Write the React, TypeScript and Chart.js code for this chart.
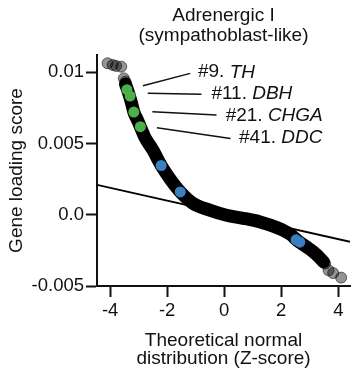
import React, { useEffect, useRef } from 'react';
import { Chart, registerables } from 'chart.js';

Chart.register(...registerables);

const FONT = '"Liberation Sans", Arial, Helvetica, sans-serif';
const INK = '#111111';

const titleLines = ['Adrenergic I', '(sympathoblast-like)'];
const xTitleLines = ['Theoretical normal', 'distribution (Z-score)'];
const yTitleText = 'Gene loading score';

const xTickValues = [-4, -2, 0, 2, 4];
const xTickLabels = ['-4', '-2', '0', '2', '4'];
const yTickValues = [-0.005, 0, 0.005, 0.01];
const yTickLabels = ['-0.005', '0.0', '0.005', '0.01'];

// bulk of genes (dense black band), theoretical Z vs loading score
const bandZ = [-3.46, -3.35, -3.25, -3.17, -3.04, -2.94, -2.79, -2.5, -2.21, -1.91, -1.54, -1.09, -0.51, 0.08, 0.67, 1.26, 1.84, 2.31, 2.58, 2.88, 3.13, 3.33, 3.48];
const bandScore = [0.00916, 0.00851, 0.00783, 0.0072, 0.00664, 0.00617, 0.00546, 0.00453, 0.00345, 0.00254, 0.0016, 0.00079, 0.00032, -0.00004, -0.00025, -0.00051, -0.0009, -0.00137, -0.00183, -0.00225, -0.00261, -0.00298, -0.00331];

// extreme genes (translucent grey)
const greyZ = [-4.09, -3.91, -3.79, -3.61, -3.52, -3.46, 3.54, 3.66, 3.82, 4.1];
const greyScore = [0.01062, 0.0105, 0.01043, 0.01038, 0.00956, 0.00933, -0.00343, -0.0039, -0.00409, -0.00441];

// highlighted adrenergic marker genes (green)
const greenZ = [-3.41, -3.3, -3.17, -2.94];
const greenScore = [0.00877, 0.00832, 0.0072, 0.00617];

// other highlighted genes (blue)
const blueZ = [-2.21, -1.54, 2.52, 2.65];
const blueScore = [0.00345, 0.0016, -0.00176, -0.00193];

// reference (fitted) line
const refZ = [-4.46, 4.41];
const refScore = [0.0021, -0.0019];

// gene labels
const geneRanks = ['#9.', '#11.', '#21.', '#41.'];
const geneNames = ['TH', 'DBH', 'CHGA', 'DDC'];

// annotation layout, in data coordinates [z, score]
const leaderFrom = [[-2.85, 0.00904], [-2.68, 0.00851], [-2.52, 0.00722], [-2.36, 0.0061]];
const leaderTo = [[-1.19, 0.00991], [-0.8, 0.00844], [-0.27, 0.00699], [0.22, 0.00535]];
const labelAt = [[-0.92, 0.00999], [-0.45, 0.00851], [0.05, 0.00694], [0.52, 0.00542]];

const pts = (xs: number[], ys: number[]) => xs.map((x, i) => ({ x, y: ys[i] }));

const geneLabelPlugin = {
  id: 'geneLabels',
  afterDatasetsDraw(chart: any) {
    const { ctx, scales } = chart;
    const xs = scales.x;
    const ys = scales.y;
    ctx.save();
    ctx.strokeStyle = INK;
    ctx.lineWidth = 1.5;
    ctx.fillStyle = INK;
    ctx.textAlign = 'left';
    ctx.textBaseline = 'middle';
    for (let i = 0; i < geneNames.length; i++) {
      ctx.beginPath();
      ctx.moveTo(xs.getPixelForValue(leaderFrom[i][0]), ys.getPixelForValue(leaderFrom[i][1]));
      ctx.lineTo(xs.getPixelForValue(leaderTo[i][0]), ys.getPixelForValue(leaderTo[i][1]));
      ctx.stroke();
      const px = xs.getPixelForValue(labelAt[i][0]);
      const py = ys.getPixelForValue(labelAt[i][1]);
      const prefix = geneRanks[i] + ' ';
      ctx.font = `19px ${FONT}`;
      ctx.fillText(prefix, px, py);
      const w = ctx.measureText(prefix).width;
      ctx.font = `italic 19px ${FONT}`;
      ctx.fillText(geneNames[i], px + w, py);
    }
    ctx.restore();
  },
};

const labelFor = (values: number[], labels: string[]) => (v: number | string) => {
  const n = Number(v);
  const idx = values.findIndex((t) => Math.abs(t - n) < 1e-9);
  return idx >= 0 ? labels[idx] : '';
};

export default function App() {
  const ref = useRef<HTMLCanvasElement>(null);

  useEffect(() => {
    if (!ref.current) return;
    Chart.defaults.font.family = FONT;
    Chart.defaults.color = INK;
    const chart = new Chart(ref.current, {
      type: 'scatter',
      data: {
        datasets: [
          {
            data: pts(greenZ, greenScore),
            backgroundColor: '#4daf4a',
            borderColor: '#4daf4a',
            borderWidth: 0,
            pointRadius: 5.5,
          },
          {
            data: pts(blueZ, blueScore),
            backgroundColor: '#3a7fc1',
            borderColor: '#3a7fc1',
            borderWidth: 0,
            pointRadius: 5.5,
          },
          {
            data: pts(greyZ, greyScore),
            backgroundColor: 'rgba(0,0,0,0.42)',
            borderColor: 'rgba(0,0,0,0.55)',
            borderWidth: 1,
            pointRadius: 5.5,
          },
          {
            data: pts(bandZ, bandScore),
            showLine: true,
            borderColor: '#000000',
            backgroundColor: '#000000',
            borderWidth: 13,
            borderCapStyle: 'round',
            borderJoinStyle: 'round',
            cubicInterpolationMode: 'monotone',
            pointRadius: 0,
            fill: false,
          } as any,
          {
            data: pts(refZ, refScore),
            showLine: true,
            borderColor: '#000000',
            borderWidth: 1.8,
            pointRadius: 0,
            fill: false,
          },
        ],
      },
      options: {
        animation: false,
        responsive: false,
        devicePixelRatio: 1,
        events: [],
        layout: { padding: { left: 0, right: 11, top: 0, bottom: 0 } },
        plugins: {
          legend: { display: false },
          tooltip: { enabled: false },
          title: {
            display: true,
            text: titleLines,
            fullSize: false,
            color: INK,
            font: { family: FONT, size: 19, weight: 'normal', lineHeight: '20px' },
            padding: { top: 6, bottom: 9 },
          },
        },
        scales: {
          x: {
            type: 'linear',
            position: 'bottom',
            min: -4.46,
            max: 4.41,
            afterFit: (s: any) => {
              s.height = 98;
            },
            ticks: {
              stepSize: 2,
              includeBounds: false,
              autoSkip: false,
              maxRotation: 0,
              padding: 3,
              color: INK,
              font: { family: FONT, size: 18.5 },
              callback: labelFor(xTickValues, xTickLabels),
            },
            grid: {
              display: true,
              drawOnChartArea: false,
              drawTicks: true,
              tickLength: 11,
              tickWidth: 2,
              tickColor: INK,
            },
            border: { display: true, color: INK, width: 2 },
            title: {
              display: true,
              text: xTitleLines,
              color: INK,
              font: { family: FONT, size: 19, lineHeight: '18.3px' },
              padding: { top: 4, bottom: 16 },
            },
          },
          y: {
            type: 'linear',
            min: -0.005,
            max: 0.0112,
            afterFit: (s: any) => {
              s.width = 97;
            },
            ticks: {
              stepSize: 0.005,
              includeBounds: false,
              autoSkip: false,
              padding: 2,
              color: INK,
              font: { family: FONT, size: 18.5 },
              callback: labelFor(yTickValues, yTickLabels),
            },
            grid: {
              display: true,
              drawOnChartArea: false,
              drawTicks: true,
              tickLength: 11,
              tickWidth: 2,
              tickColor: INK,
            },
            border: { display: true, color: INK, width: 2 },
            title: {
              display: true,
              text: yTitleText,
              color: INK,
              font: { family: FONT, size: 19, lineHeight: 1.2 },
              padding: { top: 5.3, bottom: 0 },
            },
          },
        },
      },
      plugins: [geneLabelPlugin],
    } as any);
    return () => chart.destroy();
  }, []);

  return (
    <div style={{ position: 'absolute', left: 0, top: 0, width: 361, height: 384, background: '#ffffff' }}>
      <canvas ref={ref} width={361} height={384} style={{ display: 'block', width: 361, height: 384 }} />
    </div>
  );
}
